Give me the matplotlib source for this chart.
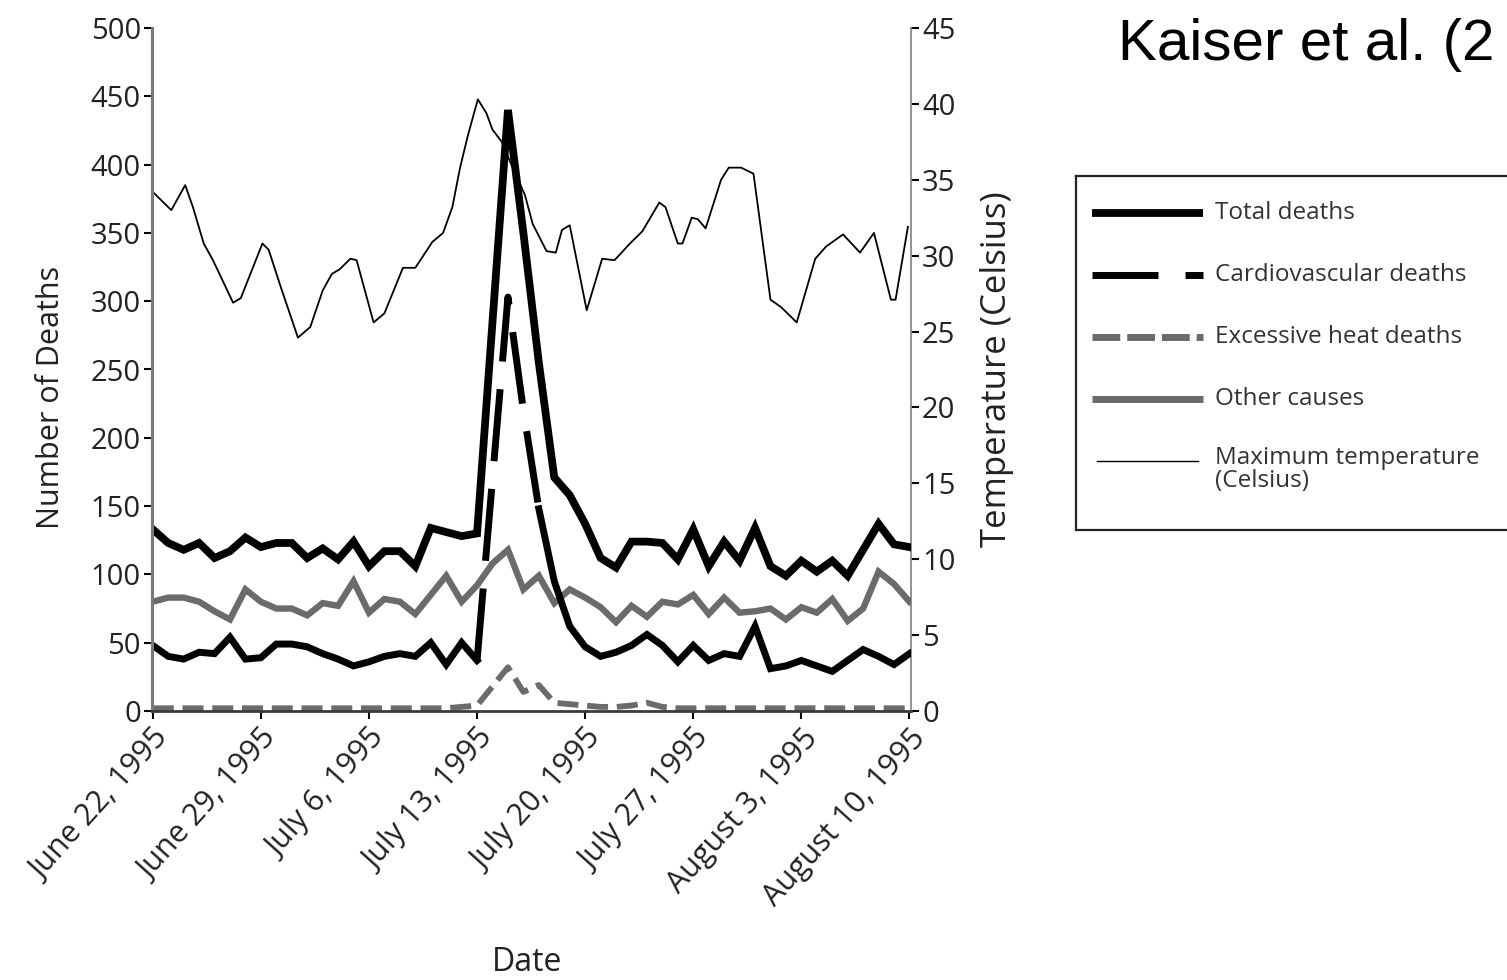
import matplotlib
matplotlib.use("Agg")
import matplotlib.pyplot as plt

# ---------------- data ----------------
days = list(range(50))  # 0 = June 22, 1995 ... 49 = August 10, 1995

total_deaths = [133, 123, 118, 123, 112, 117, 127, 120, 123, 123,
                112, 119, 111, 124, 106, 117, 117, 106, 134, 131,
                128, 130, 285, 440, 350, 255, 171, 158, 137, 112,
                105, 124, 124, 123, 111, 133, 106, 124, 110, 134,
                106, 99, 110, 102, 110, 99, 118, 137, 122, 120]

cardio_deaths = [48, 40, 38, 43, 42, 54, 38, 39, 49, 49,
                 47, 42, 38, 33, 36, 40, 42, 40, 50, 34,
                 50, 37, 170, 303, 220, 148, 95, 62, 47, 40,
                 43, 48, 56, 48, 36, 48, 37, 42, 40, 62,
                 31, 33, 37, 33, 29, 37, 45, 40, 34, 42]

heat_deaths = [2, 2, 2, 2, 2, 2, 2, 2, 2, 2,
               2, 2, 2, 2, 2, 2, 2, 2, 2, 2,
               3, 4, 18, 32, 14, 19, 6, 5, 4, 3,
               3, 4, 6, 3, 2, 2, 2, 2, 2, 2,
               2, 2, 2, 2, 2, 2, 2, 2, 2, 2]

other_causes = [80, 83, 83, 80, 73, 67, 89, 80, 75, 75,
                70, 79, 77, 95, 72, 82, 80, 71, 85, 99,
                80, 92, 108, 118, 89, 99, 79, 89, 83, 76,
                65, 77, 69, 80, 78, 85, 71, 83, 72, 73,
                75, 67, 76, 72, 82, 66, 75, 102, 93, 80]

temp_day = [0, 0.4, 1.2, 2.1, 2.6, 3.3, 3.9, 5.2, 5.7, 7.1, 7.5, 8.3, 9.4,
            10.2, 11.0, 11.6, 12.1, 12.8, 13.2, 14.3, 15.0, 16.2, 17.0, 18.1,
            18.8, 19.4, 19.9, 20.4, 21.05, 21.6, 22.0, 22.6, 23.3, 24.1, 24.6,
            25.5, 26.1, 26.5, 27.0, 28.1, 29.1, 29.9, 30.9, 31.7, 32.8, 33.2,
            34.0, 34.3, 34.9, 35.3, 35.8, 36.8, 37.3, 38.1, 38.9, 40.0, 40.7,
            41.7, 42.9, 43.6, 44.7, 45.8, 46.7, 47.8, 48.1, 48.9]
temp_c = [34.2, 33.8, 33.0, 34.65, 33.2, 30.8, 29.7, 26.9, 27.2, 30.8, 30.4,
          27.9, 24.6, 25.3, 27.7, 28.8, 29.1, 29.8, 29.7, 25.6, 26.2, 29.2,
          29.2, 30.9, 31.5, 33.2, 35.8, 37.9, 40.3, 39.4, 38.3, 37.5, 35.8,
          34.0, 32.1, 30.3, 30.2, 31.7, 32.0, 26.4, 29.8, 29.7, 30.8, 31.6,
          33.5, 33.2, 30.8, 30.8, 32.5, 32.4, 31.8, 35.0, 35.8, 35.8, 35.4,
          27.1, 26.6, 25.6, 29.8, 30.6, 31.4, 30.2, 31.5, 27.1, 27.1, 31.9]

tick_days = [0, 7, 14, 21, 28, 35, 42, 49]
tick_labels = ["June 22, 1995", "June 29, 1995", "July 6, 1995",
               "July 13, 1995", "July 20, 1995", "July 27, 1995",
               "August 3, 1995", "August 10, 1995"]
left_ticks = [0, 50, 100, 150, 200, 250, 300, 350, 400, 450, 500]
right_ticks = [0, 5, 10, 15, 20, 25, 30, 35, 40, 45]

legend_labels = ["Total deaths", "Cardiovascular deaths",
                 "Excessive heat deaths", "Other causes",
                 "Maximum temperature\n(Celsius)"]

# ---------------- styling ----------------
FONT = "Open Sans"
GRAY = "#6b6b6b"
TXT = "#222222"
W, H = 1507, 980

fig = plt.figure(figsize=(W / 100, H / 100), dpi=100)
ax = fig.add_axes([152 / W, 1 - 711 / H, 759 / W, 683 / H])
ax2 = ax.twinx()
ax.set_zorder(ax2.get_zorder() + 1)
ax.patch.set_visible(False)

# temperature (right axis)
ax2.plot(temp_day, temp_c, color="black", lw=1.3, solid_joinstyle="round")

# deaths (left axis)
ax.plot(days, other_causes, color=GRAY, lw=4.6, solid_joinstyle="miter")
ax.plot(days, heat_deaths, color=GRAY, lw=4.2, dashes=(3.6, 1.5))
# cardiovascular: solid on the flat parts, long dashes around the spike
ax.plot(days[:22], cardio_deaths[:22], color="black", lw=5, solid_joinstyle="miter")
ax.plot(days[21:26], cardio_deaths[21:26], color="black", lw=5,
        dashes=(10.4, 4.0), dash_capstyle="butt")
ax.plot(days[25:], cardio_deaths[25:], color="black", lw=5, solid_joinstyle="miter")
ax.plot(days, total_deaths, color="black", lw=5.6, solid_joinstyle="miter")

ax.set_xlim(-0.05, 49.1)
ax.set_ylim(0, 500)
ax2.set_ylim(0, 45)

ax.set_xticks(tick_days)
ax.set_xticklabels(tick_labels, rotation=48, ha="right", va="top",
                   rotation_mode="anchor", fontfamily=FONT, fontsize=22, color=TXT)
ax.set_yticks(left_ticks)
ax.set_yticklabels([str(v) for v in left_ticks], fontfamily=FONT, fontsize=21, color=TXT)
ax2.set_yticks(right_ticks)
ax2.set_yticklabels([str(v) for v in right_ticks], fontfamily=FONT, fontsize=21, color=TXT)

ax.tick_params(axis="y", direction="out", length=6, width=1.5, pad=2)
ax.tick_params(axis="x", direction="out", length=6, width=1.5, pad=3)
ax2.tick_params(axis="y", direction="out", length=6, width=1.5, pad=2)

for a in (ax, ax2):
    a.spines["top"].set_visible(False)
ax.spines["right"].set_visible(False)
ax2.spines["left"].set_visible(False)
ax2.spines["bottom"].set_visible(False)
ax.spines["left"].set_color("#7a7a7a")
ax.spines["left"].set_linewidth(2.2)
ax.spines["bottom"].set_color("#3a3a3a")
ax.spines["bottom"].set_linewidth(2.0)
ax2.spines["right"].set_color("#8a8a8a")
ax2.spines["right"].set_linewidth(1.3)

ax.set_ylabel("Number of Deaths", fontfamily=FONT, fontsize=22, color=TXT)
ax.yaxis.set_label_coords((66 - 152) / 759, (711 - 397) / 683)
ax2.set_ylabel("Temperature (Celsius)", fontfamily=FONT, fontsize=25, color=TXT)
ax2.yaxis.set_label_coords((980 - 152) / 759, (711 - 369) / 683)
ax.set_xlabel("Date", fontfamily=FONT, fontsize=23, color=TXT)
ax.xaxis.set_label_coords((527 - 152) / 759, (711 - 946) / 683)

# ---------------- legend (drawn in its own framed box) ----------------
box_l, box_t, box_b = 1076, 176, 530
box_w = W + 12 - box_l
lax = fig.add_axes([box_l / W, 1 - box_b / H, box_w / W, (box_b - box_t) / H])
lax.set_xlim(0, box_w)
lax.set_ylim(box_b - box_t, 0)
lax.set_xticks([])
lax.set_yticks([])
for s in lax.spines.values():
    s.set_color("#222222")
    s.set_linewidth(1.6)

row_y = [37, 99, 161, 223, 285]
hx = [16, 127]
lax.plot(hx, [row_y[0]] * 2, color="black", lw=5.6, solid_capstyle="butt")
lax.plot(hx, [row_y[1]] * 2, color="black", lw=5, dashes=(9.5, 3.9, 2.6, 20),
         dash_capstyle="butt")
lax.plot(hx, [row_y[2]] * 2, color=GRAY, lw=5, dashes=(4.0, 1.0), dash_capstyle="butt")
lax.plot(hx, [row_y[3]] * 2, color=GRAY, lw=5, solid_capstyle="butt")
lax.plot([21, 122], [row_y[4]] * 2, color="black", lw=1.0)
for i, lab in enumerate(legend_labels):
    if "\n" in lab:
        lax.text(139, row_y[i] - 15, lab, va="top", ha="left", fontfamily=FONT,
                 fontsize=17.5, color="#333333", linespacing=0.95)
    else:
        lax.text(139, row_y[i], lab, va="center", ha="left", fontfamily=FONT,
                 fontsize=17.5, color="#333333")

fig.text(1118 / W, 1 - 60 / H, "Kaiser et al. (2", fontfamily="Liberation Sans",
         fontsize=42, va="baseline", ha="left", color="black")

fig.savefig("out.png", dpi=100, facecolor="white")
